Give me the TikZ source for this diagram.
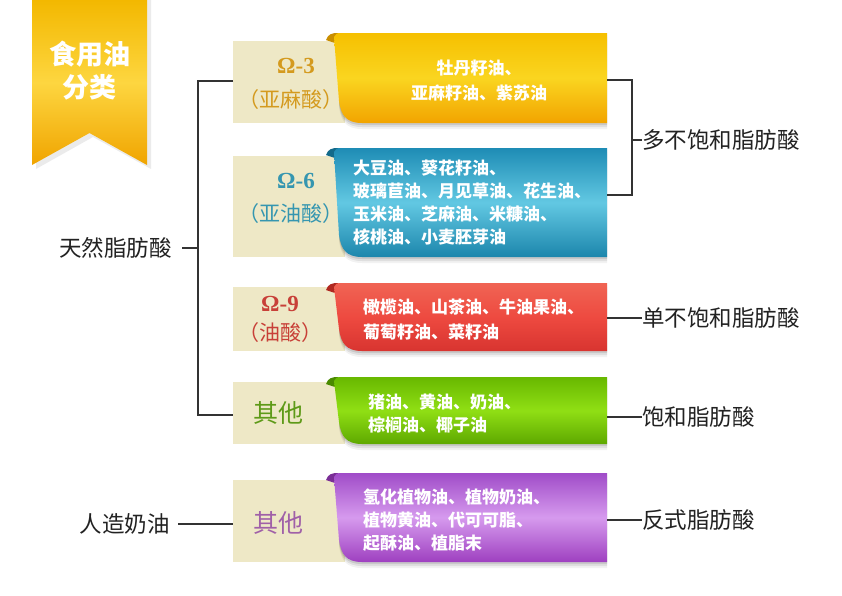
\documentclass[tikz,border=0pt]{standalone}
\usepackage{fontspec}
\newfontfamily\cjk{Noto Sans CJK SC}
\newfontfamily\lserif{Liberation Serif}
\definecolor{beige}{HTML}{EEE8C6}
\definecolor{ln}{HTML}{333333}
\definecolor{labtxt}{HTML}{222222}
\definecolor{ytop}{HTML}{F6C000}\definecolor{ymid}{HTML}{FAD520}\definecolor{ybot}{HTML}{F2A400}\definecolor{ytab}{HTML}{C98E00}
\definecolor{btop}{HTML}{1E8CB5}\definecolor{bmid}{HTML}{62C8E2}\definecolor{bbot}{HTML}{1C86AC}\definecolor{btab}{HTML}{136A8A}
\definecolor{rtop}{HTML}{F06454}\definecolor{rmid}{HTML}{EE4A40}\definecolor{rbot}{HTML}{D83430}\definecolor{rtab}{HTML}{B02820}
\definecolor{gtop}{HTML}{68B800}\definecolor{gmid}{HTML}{90DF14}\definecolor{gbot}{HTML}{5EA800}\definecolor{gtab}{HTML}{4A8A00}
\definecolor{ptop}{HTML}{A04CC8}\definecolor{pmid}{HTML}{D69AEE}\definecolor{pbot}{HTML}{9E40C0}\definecolor{ptab}{HTML}{7A2E96}
\definecolor{c1}{HTML}{D49A1E}\definecolor{c2}{HTML}{3596B0}\definecolor{c3}{HTML}{C84038}\definecolor{c4}{HTML}{5E9A18}\definecolor{c5}{HTML}{A060A8}
\definecolor{bnA}{HTML}{F3B800}\definecolor{bnB}{HTML}{FDD640}\definecolor{bnC}{HTML}{F0A400}
% ribbon: #1 top, #2 bottom, #3 top col, #4 mid col, #5 bottom col, #6 tab col
\newcommand\ribbonshape[6]{%
  \foreach \s/\o in {2/0.10,4/0.08,6/0.05}{%
    \fill[black,opacity=\o] (340,#1+\s) -- (607,#1+\s) -- (607,#2+\s) -- (362,#2+\s) .. controls (346,#2+\s) and (341,#2-8+\s) .. (339,#2-22+\s) -- cycle;}
  \fill[#6] (326,#1+7) .. controls (328,#1+1) and (332,#1) .. (338,#1) -- (341,#1+12) -- cycle;
  \shade[top color=#3, bottom color=#5, middle color=#4] (334,#1+4) .. controls (335,#1+1) and (337,#1) .. (341,#1) -- (607,#1) -- (607,#2) -- (362,#2) .. controls (346,#2) and (341,#2-8) .. (339,#2-22) -- cycle;
}
\begin{document}
\begin{tikzpicture}[x=1pt,y=-1pt,
  box/.style={fill=beige, minimum width=112pt, inner sep=0pt, anchor=north west},
  omg/.style={font=\lserif\bfseries\fontsize{23}{23}\selectfont},
  par/.style={font=\cjk\fontsize{21}{21}\selectfont},
  other/.style={font=\cjk\fontsize{25}{25}\selectfont},
  rib/.style={font=\cjk\bfseries\fontsize{17}{23}\selectfont, text=white, align=left, anchor=west, inner sep=0pt},
  cat/.style={font=\cjk\fontsize{22.5}{22.5}\selectfont, text=labtxt, inner sep=0pt},
  conn/.style={draw=ln, line width=1.6pt}]
\useasboundingbox (0,0) rectangle (842,595);
\fill[white] (0,0) rectangle (842,595);

% banner
\fill[black,opacity=0.08] (36,0) -- (151,0) -- (151,169) -- (93,137) -- (36,169) -- cycle;
\shade[top color=bnA, bottom color=bnC, middle color=bnB] (32,0) -- (147,0) -- (147,165) -- (89.5,133) -- (32,165) -- cycle;
\node[font=\cjk\bfseries\fontsize{27}{33}\selectfont, text=white, align=center] (title) at (89.5,71) {食用油\\分类};

% beige boxes
\node[box, minimum height=82pt] (b1) at (233,41) {};
\node[box, minimum height=101pt] (b2) at (233,156) {};
\node[box, minimum height=64pt] (b3) at (233,287) {};
\node[box, minimum height=62pt] (b4) at (233,382) {};
\node[box, minimum height=82pt] (b5) at (233,480) {};

\node[omg, text=c1] (o1) at (296,66) {Ω-3};
\node[par, text=c1] (p1) at (291,100) {（亚麻酸）};
\node[omg, text=c2] (o2) at (296,181) {Ω-6};
\node[par, text=c2] (p2) at (291,214) {（亚油酸）};
\node[omg, text=c3] (o3) at (280,304) {Ω-9};
\node[par, text=c3] (p3) at (280,333) {（油酸）};
\node[other, text=c4] (t4) at (278,413) {其他};
\node[other, text=c5] (t5) at (278,523) {其他};

% ribbons
\ribbonshape{33}{123}{ytop}{ymid}{ybot}{ytab}
\ribbonshape{148}{257}{btop}{bmid}{bbot}{btab}
\ribbonshape{283}{351}{rtop}{rmid}{rbot}{rtab}
\ribbonshape{377}{444}{gtop}{gmid}{gbot}{gtab}
\ribbonshape{473}{562}{ptop}{pmid}{pbot}{ptab}

\node[rib, align=center, anchor=center, font=\cjk\bfseries\fontsize{17}{25}\selectfont] (x1) at (479,80.5) {牡丹籽油、\\亚麻籽油、紫苏油};
\node[rib] (x2) at (353,202.5) {大豆油、葵花籽油、\\玻璃苣油、月见草油、花生油、\\玉米油、芝麻油、米糠油、\\核桃油、小麦胚芽油};
\node[rib, font=\cjk\bfseries\fontsize{17}{25}\selectfont] (x3) at (363,319.5) {橄榄油、山茶油、牛油果油、\\葡萄籽油、菜籽油};
\node[rib] (x4) at (368,413) {猪油、黄油、奶油、\\棕榈油、椰子油};
\node[rib] (x5) at (363,520) {氢化植物油、植物奶油、\\植物黄油、代可可脂、\\起酥油、植脂末};

% ribbon ends
\coordinate (e1) at (607,80);
\coordinate (e2) at (607,195);
\coordinate (e3) at (607,318);
\coordinate (e4) at (607,417);
\coordinate (e5) at (607,520);

% left labels
\node[cat, anchor=east] (nat) at (172,248) {天然脂肪酸};
\node[cat, anchor=east] (art) at (170,524) {人造奶油};
\coordinate (tv) at (198,248);
\draw[conn] (b1.west |- 0,81) -| (tv) |- (b4.west |- 0,415);
\draw[conn] (182,248) -- (tv);
\draw[conn] (178,524) -- (b5.west |- 0,524);

% right labels
\node[cat, anchor=west] (l1) at (642,140) {多不饱和脂肪酸};
\node[cat, anchor=west] (l3) at (642,318) {单不饱和脂肪酸};
\node[cat, anchor=west] (l4) at (642,417) {饱和脂肪酸};
\node[cat, anchor=west] (l5) at (642,520) {反式脂肪酸};
\coordinate (bk) at (632,140);
\draw[conn] (e1) -| (bk) |- (e2);
\draw[conn] (bk) -- (l1.west);
\draw[conn] (e3) -- (l3.west);
\draw[conn] (e4) -- (l4.west);
\draw[conn] (e5) -- (l5.west);
\end{tikzpicture}
\end{document}
